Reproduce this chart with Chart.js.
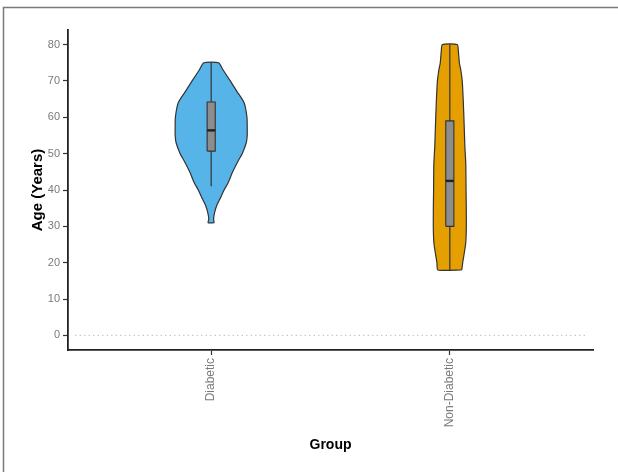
<!DOCTYPE html>
<html>
<head>
<meta charset="utf-8">
<script src="https://cdn.jsdelivr.net/npm/chart.js@4/dist/chart.umd.min.js"></script>
<style>
  html, body { margin: 0; padding: 0; background: #fff; }
  #wrap { width: 618px; height: 472px; position: relative; }
</style>
</head>
<body>
<div id="wrap"><canvas id="violin" width="618" height="472"></canvas></div>
<script>
// categories and colours
const groups = ['Diabetic', 'Non-Diabetic'];
const groupColors = ['#56B4E9', '#E69F00'];

// violin outlines: age grid and half-width (in x-axis units)
const diabeticAges  = [31, 32, 34, 36, 38, 40, 42, 45, 48, 50, 53, 55, 57, 60, 64, 67, 70, 73, 75];
const diabeticWidth = [0.013, 0.010, 0.015, 0.025, 0.040, 0.054, 0.071, 0.090, 0.113, 0.130, 0.147, 0.151, 0.151, 0.150, 0.138, 0.109, 0.080, 0.050, 0.031];

const nonDiabeticAges  = [18, 20, 25, 29, 35, 40, 47, 52, 56, 60, 65, 70, 73, 75, 78, 80];
const nonDiabeticWidth = [0.050, 0.054, 0.066, 0.069, 0.069, 0.068, 0.067, 0.063, 0.061, 0.059, 0.056, 0.052, 0.046, 0.040, 0.036, 0.031];

// box plot stats: [min, q1, median, q3, max]
const diabeticBox    = [41, 50.7, 56.4, 64.2, 75];
const nonDiabeticBox = [18, 30, 42.5, 59, 80];

const yTickValues = [0, 10, 20, 30, 40, 50, 60, 70, 80];

const violins = [
  { ages: diabeticAges, width: diabeticWidth, box: diabeticBox },
  { ages: nonDiabeticAges, width: nonDiabeticWidth, box: nonDiabeticBox }
];

const boxHalf = 0.017;
const font = 'Liberation Sans, Arial, sans-serif';

function violinPath(v, cx) {
  const right = v.ages.map((a, i) => ({ x: cx + v.width[i], y: a }));
  const left = v.ages.map((a, i) => ({ x: cx - v.width[i], y: a })).reverse();
  return right.concat(left, [right[0]]);
}

const datasets = [];

// dotted reference line at 0
datasets.push({
  data: [{ x: 0.43, y: 0 }, { x: 2.57, y: 0 }],
  borderColor: '#c4c4c4', borderWidth: 1.3, borderDash: [1.3, 3.2],
  pointRadius: 0, showLine: true, order: 10
});

violins.forEach((v, i) => {
  const cx = i + 1;
  datasets.push({
    data: violinPath(v, cx),
    showLine: true, fill: 'shape', tension: 0.2,
    backgroundColor: groupColors[i], borderColor: '#333', borderWidth: 1.2,
    pointRadius: 0, order: 5
  });
  datasets.push({
    data: [{ x: cx, y: v.box[0] }, { x: cx, y: v.box[4] }],
    showLine: true, borderColor: '#333', borderWidth: 1.2, pointRadius: 0, order: 3
  });
  datasets.push({
    data: [
      { x: cx - boxHalf, y: v.box[1] }, { x: cx + boxHalf, y: v.box[1] },
      { x: cx + boxHalf, y: v.box[3] }, { x: cx - boxHalf, y: v.box[3] },
      { x: cx - boxHalf, y: v.box[1] }
    ],
    showLine: true, fill: 'shape', tension: 0,
    backgroundColor: '#8d8d8d', borderColor: '#333', borderWidth: 1.1,
    pointRadius: 0, order: 2
  });
  datasets.push({
    data: [{ x: cx - boxHalf, y: v.box[2] }, { x: cx + boxHalf, y: v.box[2] }],
    showLine: true, borderColor: '#222', borderWidth: 2.4, pointRadius: 0, order: 1
  });
});

// grey frame of the screenshot (top and left edges)
const framePlugin = {
  id: 'frame',
  beforeDraw(chart) {
    const c = chart.ctx;
    c.save();
    c.fillStyle = '#fff';
    c.fillRect(0, 0, chart.width, chart.height);
    c.strokeStyle = '#7a7a7a';
    c.lineWidth = 1.5;
    c.beginPath();
    c.moveTo(3.5, chart.height);
    c.lineTo(3.5, 7.5);
    c.lineTo(chart.width, 7.5);
    c.stroke();
    c.restore();
  }
};

new Chart(document.getElementById('violin'), {
  type: 'scatter',
  data: { datasets },
  plugins: [framePlugin],
  options: {
    responsive: false,
    animation: false,
    layout: { padding: { left: 25, top: 30, right: 25, bottom: 14 } },
    plugins: { legend: { display: false }, tooltip: { enabled: false } },
    scales: {
      x: {
        type: 'linear', min: 0.4, max: 2.6,
        afterBuildTicks: s => { s.ticks = groups.map((g, i) => ({ value: i + 1 })); },
        afterFit: s => { s.height = 108; },
        ticks: {
          callback: v => groups[v - 1],
          minRotation: 90, maxRotation: 90, autoSkip: false,
          color: '#7a7a7a', font: { family: font, size: 12 }, padding: 3
        },
        grid: { display: true, drawOnChartArea: false, tickLength: 5, tickColor: '#333', tickWidth: 1.2 },
        border: { display: true, color: '#222', width: 1.8 },
        title: { display: true, text: 'Group', color: '#000', font: { family: font, size: 14, weight: 'bold' } }
      },
      y: {
        type: 'linear', min: -4, max: 84,
        afterBuildTicks: s => { s.ticks = yTickValues.map(v => ({ value: v })); },
        afterFit: s => { s.width = 43; },
        ticks: { color: '#7a7a7a', font: { family: font, size: 11 }, padding: 3 },
        grid: { display: true, drawOnChartArea: false, tickLength: 5, tickColor: '#333', tickWidth: 1.2 },
        border: { display: true, color: '#222', width: 1.8 },
        title: { display: true, text: 'Age (Years)', color: '#000', font: { family: font, size: 15, weight: 'bold' } }
      }
    }
  }
});
</script>
</body>
</html>
